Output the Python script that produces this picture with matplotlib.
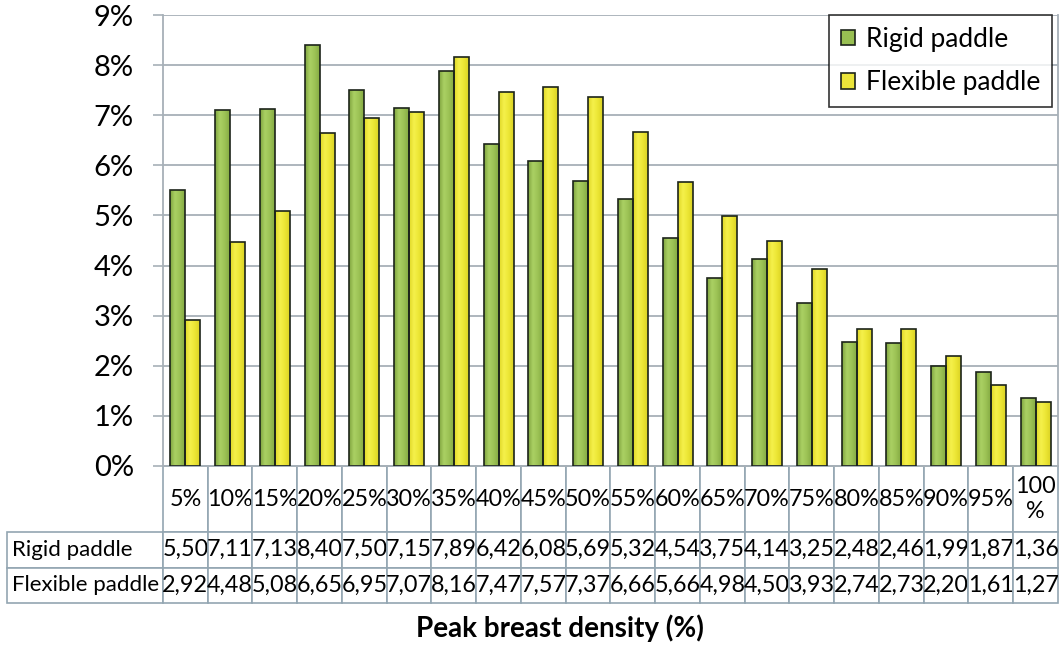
import numpy as np
import matplotlib
matplotlib.use('Agg')
import matplotlib.pyplot as plt
from matplotlib.table import Table
from matplotlib.patches import Patch
from matplotlib.colors import LinearSegmentedColormap

categories = ['5%', '10%', '15%', '20%', '25%', '30%', '35%', '40%', '45%', '50%',
              '55%', '60%', '65%', '70%', '75%', '80%', '85%', '90%', '95%', '100\n%']
rigid = [5.50, 7.11, 7.13, 8.40, 7.50, 7.15, 7.89, 6.42, 6.08, 5.69,
         5.32, 4.54, 3.75, 4.14, 3.25, 2.48, 2.46, 1.99, 1.87, 1.36]
flexible = [2.92, 4.48, 5.08, 6.65, 6.95, 7.07, 8.16, 7.47, 7.57, 7.37,
            6.66, 5.66, 4.98, 4.50, 3.93, 2.74, 2.73, 2.20, 1.61, 1.27]
series_names = ['Rigid paddle', 'Flexible paddle']
yticks = [0, 1, 2, 3, 4, 5, 6, 7, 8, 9]
xlabel = 'Peak breast density (%)'

plt.rcParams['font.family'] = ['Lato', 'DejaVu Sans']

W, H = 1061, 649
fig = plt.figure(figsize=(W / 100, H / 100), dpi=100)
ax_l, ax_r, ax_t, ax_b = 163, 1058, 15, 466
ax = fig.add_axes([ax_l / W, 1 - ax_b / H, (ax_r - ax_l) / W, (ax_b - ax_t) / H])

grid_c = '#a7b0b8'
edge_c = '#1c241a'
green_stops = ['#7fa43f', '#abd164', '#9cc255', '#85ab43']
yellow_stops = ['#dfd726', '#f5f14c', '#ece634', '#dad224']

n = len(categories)
x = np.arange(n)
bw = 0.335
bars_r = ax.bar(x - bw / 2, rigid, bw, facecolor='none', edgecolor=edge_c, lw=1.2, zorder=3)
bars_f = ax.bar(x + bw / 2, flexible, bw, facecolor='none', edgecolor=edge_c, lw=1.2, zorder=3)

grad = np.linspace(0, 1, 64).reshape(1, -1)


def paint(bars, stops):
    cmap = LinearSegmentedColormap.from_list('g', stops)
    for b in bars:
        x0, y0 = b.get_x(), b.get_y()
        im = ax.imshow(grad, cmap=cmap, extent=(x0, x0 + b.get_width(), y0, y0 + b.get_height()),
                       aspect='auto', zorder=2, interpolation='bicubic')
        im.set_clip_path(b)


paint(bars_r, green_stops)
paint(bars_f, yellow_stops)

ax.set_xlim(-0.5, n - 0.5)
ax.set_ylim(0, 9)
ax.set_yticks(yticks)
ax.set_yticklabels([f'{t}%' for t in yticks], fontsize=21)
ax.set_xticks([])
ax.tick_params(axis='y', length=7, width=1.2, color=grid_c, pad=14)
ax.grid(axis='y', color=grid_c, lw=1.3, zorder=1)
ax.set_axisbelow(True)
for s in ['left', 'right', 'bottom']:
    ax.spines[s].set_color(grid_c)
    ax.spines[s].set_linewidth(1.3)
ax.spines['top'].set_visible(False)

# Data table below the plot
px_w = ax_r - ax_l
px_h = ax_b - ax_t
lab_w = (ax_l - 7) / px_w
hdr_h = 66 / px_h
row_h = 35.5 / px_h
tbl = Table(ax, bbox=[0, -(hdr_h + 2 * row_h), 1, hdr_h + 2 * row_h])
cw = 1.0 / n
for j, c in enumerate(categories):
    tbl.add_cell(0, j, cw, hdr_h, text=c, loc='center')
label_cells = []
for i, (name, vals) in enumerate(zip(series_names, [rigid, flexible]), start=1):
    cell = tbl.add_cell(i, -1, lab_w, row_h, text=name, loc='left')
    cell.PAD = 0.03
    label_cells.append(cell)
    for j, v in enumerate(vals):
        tbl.add_cell(i, j, cw, row_h, text=f'{v:.2f}'.replace('.', ','), loc='center')
tbl.auto_set_font_size(False)
tbl.set_fontsize(16.8)
for key, cell in tbl.get_celld().items():
    cell.set_edgecolor('#93a6b2')
    cell.set_linewidth(1.2)
    cell.set_facecolor('white')
for cell in label_cells:
    cell.get_text().set_fontsize(16)
ax.add_table(tbl)

# Legend
handles = [Patch(facecolor='#98bf52', edgecolor=edge_c, lw=1.2),
           Patch(facecolor='#ebe53a', edgecolor=edge_c, lw=1.2)]
leg = ax.legend(handles, series_names, loc='upper right', bbox_to_anchor=((1052 - ax_l) / px_w, 1.0),
                borderaxespad=0, fontsize=19, frameon=True, fancybox=False, handlelength=0.55,
                handleheight=0.55, handletextpad=0.4, borderpad=0.45, labelspacing=0.7)
leg.get_frame().set_edgecolor('black')
leg.get_frame().set_linewidth(1.2)
leg.set_zorder(5)

fig.text(560 / W, 1 - 628 / H, xlabel, ha='center', va='center', fontsize=20, fontweight='bold')

fig.savefig('out.png', dpi=100, facecolor='white')
